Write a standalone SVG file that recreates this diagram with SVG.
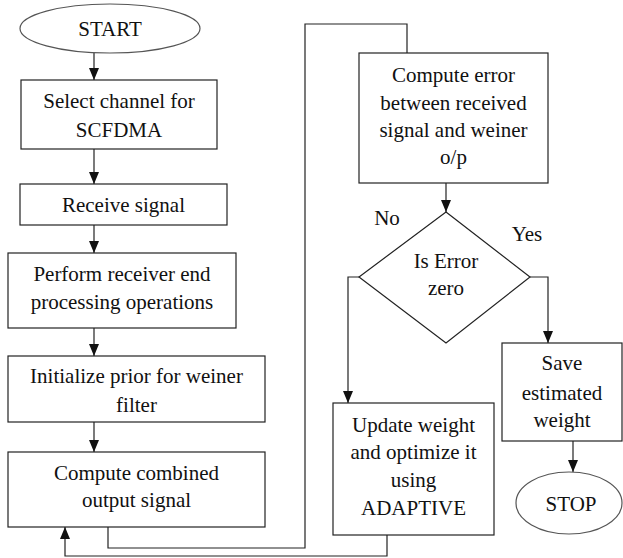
<svg xmlns="http://www.w3.org/2000/svg" width="623" height="558" viewBox="0 0 623 558">
<style>
.box{fill:#fff;stroke:#222;stroke-width:1.2}
.term{fill:#fff;stroke:#555;stroke-width:1.2}
text{font-family:'Liberation Serif','DejaVu Serif',serif;font-size:21px;fill:#111;text-anchor:middle}
.c{fill:none;stroke:#222;stroke-width:1.2}
</style>
<defs>
<marker id="ah" viewBox="0 0 12 10" refX="12" refY="5" markerWidth="12" markerHeight="10" orient="auto" markerUnits="userSpaceOnUse">
<path d="M0,0 L12,5 L0,10 z" fill="#111"/>
</marker>
</defs>
<g id="connectors">
<path class="c" d="M94,53 V80" marker-end="url(#ah)"/>
<path class="c" d="M94,149 V184" marker-end="url(#ah)"/>
<path class="c" d="M94,225 V253" marker-end="url(#ah)"/>
<path class="c" d="M94,328 V356" marker-end="url(#ah)"/>
<path class="c" d="M94,422 V452" marker-end="url(#ah)"/>
<path class="c" d="M108,527 V548 H305 V24 H407 V53"/>
<path class="c" d="M446,183 V212" marker-end="url(#ah)"/>
<path class="c" d="M359,277 H348 V403" marker-end="url(#ah)"/>
<path class="c" d="M530,277 H548 V343" marker-end="url(#ah)"/>
<path class="c" d="M573,441 V472" marker-end="url(#ah)"/>
<path class="c" d="M387,535 V556 H65 V527" marker-end="url(#ah)"/>
</g>
<g id="start">
<ellipse class="term" cx="110" cy="28.5" rx="90" ry="24.5"/>
<text font-family="Liberation Serif, serif" x="110" y="36">START</text>
</g>
<g id="select" font-family="Liberation Serif, serif">
<rect class="box" x="21" y="80" width="196" height="69"/>
<text x="119" y="108">Select channel for</text>
<text x="119" y="137">SCFDMA</text>
</g>
<g id="receive">
<rect class="box" x="20" y="184" width="207" height="41"/>
<text x="123.5" y="212">Receive signal</text>
</g>
<g id="perform">
<rect class="box" x="8" y="253" width="228" height="75"/>
<text x="122" y="281">Perform receiver end</text>
<text x="122" y="309">processing operations</text>
</g>
<g id="initialize">
<rect class="box" x="8" y="356" width="257" height="66"/>
<text x="136.5" y="383">Initialize prior for weiner</text>
<text x="136.5" y="412">filter</text>
</g>
<g id="combined">
<rect class="box" x="8" y="452" width="257" height="75"/>
<text x="136.5" y="480">Compute combined</text>
<text x="136.5" y="507">output signal</text>
</g>
<g id="error">
<rect class="box" x="359" y="53" width="189" height="130"/>
<text x="453.5" y="82">Compute error</text>
<text x="453.5" y="110">between received</text>
<text x="453.5" y="137">signal and weiner</text>
<text x="453.5" y="164">o/p</text>
</g>
<g id="decision">
<polygon class="box" points="446,212 530,277 446,343 359,277"/>
<text x="446" y="268">Is Error</text>
<text x="446" y="295">zero</text>
<text x="387" y="225">No</text>
<text x="527" y="241">Yes</text>
</g>
<g id="update">
<rect class="box" x="333" y="403" width="161" height="132"/>
<text x="413.5" y="432">Update weight</text>
<text x="413.5" y="459">and optimize it</text>
<text x="413.5" y="487">using</text>
<text x="413.5" y="515">ADAPTIVE</text>
</g>
<g id="save">
<rect class="box" x="502" y="343" width="120" height="98"/>
<text x="562" y="370">Save</text>
<text x="562" y="400">estimated</text>
<text x="562" y="427">weight</text>
</g>
<g id="stop">
<ellipse class="term" cx="569" cy="503" rx="53" ry="31"/>
<text x="571" y="511">STOP</text>
</g>
</svg>
